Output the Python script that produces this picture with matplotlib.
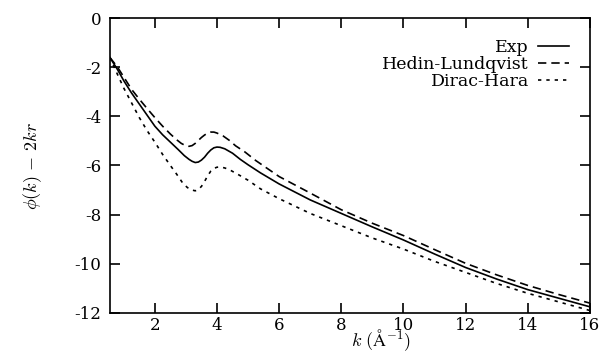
import matplotlib
matplotlib.use("Agg")
import matplotlib.pyplot as plt

# values
k_exp = [0.55, 0.8, 1.0, 1.25, 1.5, 1.75, 2.0, 2.25, 2.5, 2.75, 2.95, 3.1, 3.2, 3.3,
         3.4, 3.5, 3.6, 3.7, 3.8, 3.9, 4.0, 4.1, 4.25, 4.5, 4.75, 5.0, 5.4,
         6, 7, 8, 9, 10, 11, 12, 13, 14, 15, 16]
exp = [-1.6, -2.1, -2.55, -3.05, -3.5, -3.95, -4.4, -4.75, -5.05, -5.35, -5.6, -5.75,
       -5.83, -5.88, -5.86, -5.78, -5.66, -5.5, -5.37, -5.28, -5.25, -5.26, -5.32,
       -5.5, -5.75, -5.97, -6.3, -6.75, -7.4, -7.95, -8.5, -9.03, -9.6, -10.15,
       -10.62, -11.05, -11.4, -11.75]

k_hl = [0.55, 0.8, 1.0, 1.25, 1.5, 1.75, 2.0, 2.25, 2.5, 2.7, 2.85, 3.0, 3.1, 3.2,
        3.3, 3.4, 3.5, 3.6, 3.7, 3.8, 3.9, 4.0, 4.2, 4.4, 4.6, 4.9, 5.25,
        6, 7, 8, 9, 10, 11, 12, 13, 14, 15, 16]
hl = [-1.6, -2.0, -2.4, -2.9, -3.3, -3.68, -4.05, -4.4, -4.72, -4.95, -5.1, -5.2,
      -5.22, -5.19, -5.1, -4.98, -4.86, -4.76, -4.68, -4.64, -4.64, -4.68, -4.8,
      -4.98, -5.2, -5.45, -5.8, -6.45, -7.12, -7.8, -8.35, -8.85, -9.42, -9.98,
      -10.45, -10.88, -11.25, -11.6]

k_dh = [0.55, 0.8, 1.0, 1.25, 1.5, 1.75, 2.0, 2.25, 2.5, 2.7, 2.9, 3.05, 3.2, 3.3,
        3.4, 3.5, 3.6, 3.7, 3.8, 3.9, 4.0, 4.1, 4.25, 4.4, 4.7, 5.0, 5.4,
        6, 7, 8, 9, 10, 11, 12, 13, 14, 15, 16]
dh = [-1.6, -2.3, -2.85, -3.45, -4.05, -4.58, -5.05, -5.55, -6.0, -6.35, -6.72, -6.9,
      -7.0, -7.03, -6.98, -6.85, -6.65, -6.42, -6.23, -6.12, -6.07, -6.06, -6.1,
      -6.17, -6.38, -6.6, -6.95, -7.35, -7.95, -8.45, -8.95, -9.4, -9.9, -10.35,
      -10.8, -11.2, -11.55, -11.9]

plt.rcParams['font.family'] = ['DejaVu Serif']
plt.rcParams['mathtext.fontset'] = 'cm'
plt.rcParams['axes.unicode_minus'] = False

fig = plt.figure(figsize=(6, 3.54), dpi=100)
ax = fig.add_axes([0.183, 0.116, 0.8, 0.833])

ax.plot(k_exp, exp, color='black', lw=1.2, label='Exp')
ax.plot(k_hl, hl, color='black', lw=1.2, ls=(0, (5, 3)), label='Hedin-Lundqvist')
ax.plot(k_dh, dh, color='black', lw=1.2, ls=(0, (2, 3)), label='Dirac-Hara')

ax.set_xlim(0.55, 16)
ax.set_ylim(-12, 0)
ax.set_xticks(range(2, 17, 2))
ax.set_yticks(range(-12, 1, 2))
ax.tick_params(direction='in', length=7, width=1.2, labelsize=12, top=True, right=True,
               pad=6)
ax.tick_params(axis='x', pad=3)
for s in ax.spines.values():
    s.set_linewidth(1.2)

ax.set_xlabel(r'$k\ (\mathrm{\AA}^{-1})$', fontsize=13)
ax.xaxis.set_label_coords(0.565, -0.047)
ax.set_ylabel(r'$\phi(k)\,-\,2kr$', fontsize=13, labelpad=22)

ax.legend(loc='upper right', frameon=False, markerfirst=False, fontsize=12.5,
          handlelength=1.8, labelspacing=0.0, borderaxespad=0.8, handletextpad=0.5)

fig.savefig('out.png', dpi=100)
